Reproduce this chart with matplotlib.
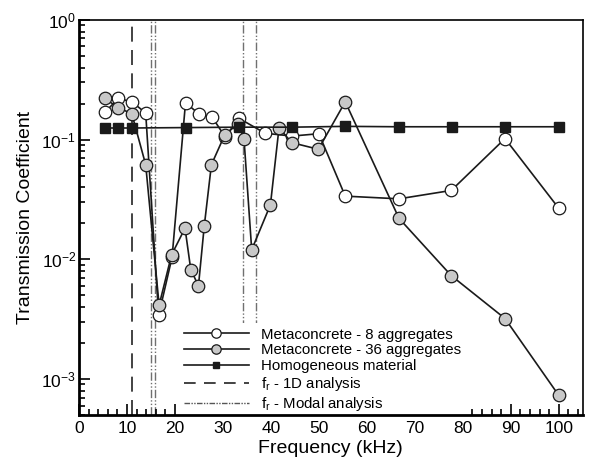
import matplotlib
matplotlib.use('Agg')
from matplotlib import pyplot as plt
from matplotlib.ticker import LogLocator, MultipleLocator, NullFormatter

plt.rcParams['font.family'] = ['Liberation Sans', 'DejaVu Sans']
plt.rcParams['mathtext.fontset'] = 'custom'
plt.rcParams['mathtext.rm'] = 'Liberation Sans'
plt.rcParams['mathtext.it'] = 'Liberation Sans'
plt.rcParams['mathtext.default'] = 'regular'

# metaconcrete - 8 aggregates
freq_8 = [5.4, 8.2, 11.0, 13.9, 16.6, 19.4, 22.2, 25.0, 27.7, 30.5, 33.3,
          38.8, 44.4, 50.0, 55.5, 66.7, 77.6, 88.8, 100.0]
tc_8 = [0.169, 0.221, 0.207, 0.167, 0.0034, 0.0104, 0.203, 0.164, 0.155,
        0.105, 0.151, 0.113, 0.107, 0.112, 0.0337, 0.032, 0.0376, 0.102, 0.0267]

# metaconcrete - 36 aggregates
freq_36 = [5.4, 8.2, 11.0, 13.9, 16.7, 19.3, 22.1, 23.3, 24.9, 26.1, 27.6,
           30.4, 33.2, 34.4, 36.0, 39.9, 41.7, 44.3, 49.9, 55.5, 66.7, 77.6,
           88.8, 100.0]
tc_36 = [0.221, 0.184, 0.165, 0.0617, 0.00414, 0.0109, 0.0182, 0.0082, 0.0060,
         0.0188, 0.0617, 0.110, 0.136, 0.1007, 0.0120, 0.0285, 0.126, 0.0944,
         0.083, 0.207, 0.022, 0.0073, 0.0032, 0.00073]

# homogeneous material
freq_h = [5.4, 8.2, 11.0, 22.2, 33.3, 44.4, 55.5, 66.7, 77.8, 88.9, 100.0]
tc_h = [0.125, 0.125, 0.125, 0.126, 0.127, 0.127, 0.129, 0.128, 0.128, 0.128, 0.128]

fr_1d = 11.0
fr_modal = [15.1, 15.8, 34.1, 36.8]

fig = plt.figure(figsize=(5.94, 4.61), dpi=100)
ax = fig.add_axes([0.133, 0.0998, 0.848, 0.857])

for f in fr_modal:
    ax.axvline(f, color='#707070', lw=1.0, ls=(0, (6, 1.5, 1, 1.5, 1, 1.5)), zorder=1)
ax.axvline(fr_1d, color='#222222', lw=1.2, ls=(0, (9, 5)), zorder=1)

ax.plot(freq_8, tc_8, '-o', color='#1a1a1a', lw=1.2, ms=9, mfc='white',
        mec='#1a1a1a', mew=0.9, zorder=3, label='Metaconcrete - 8 aggregates')
ax.plot(freq_36, tc_36, '-o', color='#1a1a1a', lw=1.2, ms=9, mfc='#c8c8c8',
        mec='#1a1a1a', mew=0.9, zorder=4, label='Metaconcrete - 36 aggregates')
ax.plot(freq_h, tc_h, '-s', color='#1a1a1a', lw=1.2, ms=6.5, mfc='#1a1a1a',
        mec='#1a1a1a', zorder=5, label='Homogeneous material')

# legend entries for the vertical lines
ax.plot([], [], color='#222222', lw=1.2, ls=(0, (7, 5)), label='f$_r$ - 1D analysis')
ax.plot([], [], color='#555555', lw=1.0, ls=(0, (4, 1, 1, 1, 1, 1)),
        label='f$_r$ - Modal analysis')

ax.set_yscale('log')
ax.set_xlim(0, 105)
ax.set_ylim(5e-4, 1)

ax.xaxis.set_major_locator(MultipleLocator(10))
ax.xaxis.set_minor_locator(MultipleLocator(2))
ax.yaxis.set_major_locator(LogLocator(base=10, numticks=10))
ax.yaxis.set_minor_locator(LogLocator(base=10, subs=range(2, 10), numticks=20))
ax.yaxis.set_minor_formatter(NullFormatter())

ax.tick_params(which='both', direction='in', top=False, right=False,
               labelsize=12.5, width=1.2)
ax.tick_params(which='major', length=8)
ax.tick_params(which='minor', length=4)
ax.tick_params(axis='y', which='major', pad=2)
ax.tick_params(axis='x', which='major', pad=4)
for s in ax.spines.values():
    s.set_linewidth(1.2)
ax.spines['left'].set_linewidth(2)
ax.spines['bottom'].set_linewidth(2)

ax.set_xlabel('Frequency (kHz)', fontsize=14, labelpad=3)
ax.set_ylabel('Transmission Coefficient', fontsize=14, labelpad=5)

leg = ax.legend(loc='lower left', bbox_to_anchor=(0.185, -0.025), fontsize=10.8,
                handlelength=4.3, frameon=True, framealpha=1, edgecolor='none',
                facecolor='white', borderpad=0.3, labelspacing=0.12, handletextpad=0.8,
                fancybox=False, markerscale=0.75)
# keep the legend box above the vertical lines but under the axis frame and ticks
leg.set_zorder(2)

fig.savefig('out.png', dpi=100)
